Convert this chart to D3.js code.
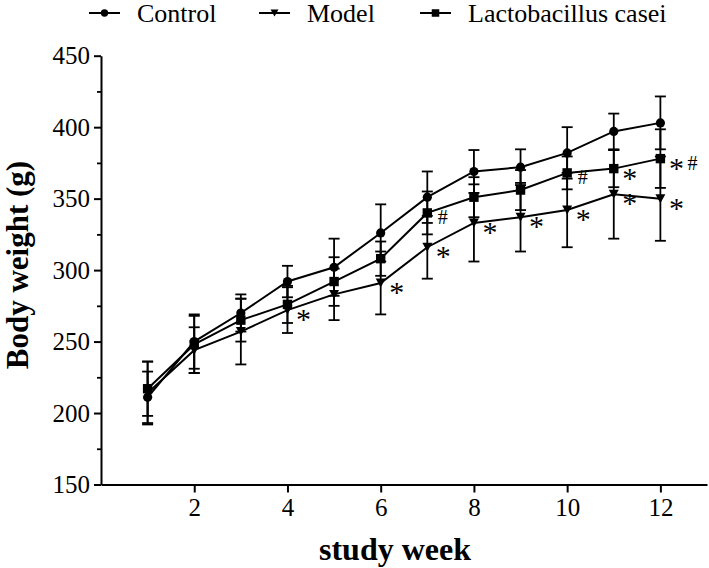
<!DOCTYPE html>
<html>
<head>
<meta charset="utf-8">
<script src="https://cdn.jsdelivr.net/npm/d3@7"></script>
<style>
  body { margin: 0; background: #fff; }
  svg text { font-family: "Liberation Serif", "Times New Roman", serif; }
</style>
</head>
<body>
<div id="chart"></div>
<script>
const W = 709, H = 568;
const FONT = "'Liberation Serif', 'Times New Roman', serif";

// data (mean and SD, body weight in g)
const weeks = [1, 2, 3, 4, 5, 6, 7, 8, 9, 10, 11, 12];
const control   = [211, 250, 270, 292, 302, 326, 351, 369, 372, 382, 397, 403];
const controlSD = [18, 19, 13, 11, 20, 20, 18, 15, 12.5, 18, 12.5, 18.5];
const model     = [214, 244, 257, 272, 283, 291, 316, 333, 337, 342, 353, 350];
const modelSD   = [22, 16, 23, 16, 18, 22, 22, 27, 24, 26, 31, 29.5];
const lacto     = [217, 248, 265, 276, 292, 308, 340, 351, 356, 368, 371, 378];
const lactoSD   = [19, 20, 15, 13, 17, 12, 15, 14, 14, 11.5, 13, 20.5];

const yMajor = [150, 200, 250, 300, 350, 400, 450];
const yMinor = [175, 225, 275, 325, 375, 425];
const xTicks = [2, 4, 6, 8, 10, 12];

// significance marks
const modelStars = [4, 6, 7, 8, 9, 10, 11, 12];
const lactoStars = [11, 12];
const lactoHash  = [7, 10, 12];

const series = [
  {name: "Control", mean: control, sd: controlSD, symbol: "circle"},
  {name: "Model", mean: model, sd: modelSD, symbol: "triangle"},
  {name: "Lactobacillus casei", mean: lacto, sd: lactoSD, symbol: "square"}
];

const svg = d3.select("#chart").append("svg")
    .attr("width", W)
    .attr("height", H)
    .attr("font-family", FONT);

const x = d3.scaleLinear().domain([0, 13]).range([101, 707]);
const y = d3.scaleLinear().domain([150, 450]).range([484.5, 55.7]);

function drawMarker(g, type, cx, cy, s) {
  if (type === "circle") {
    g.append("circle").attr("cx", cx).attr("cy", cy).attr("r", 4.6 * s).attr("fill", "#000");
  } else if (type === "square") {
    g.append("rect").attr("x", cx - 4.7 * s).attr("y", cy - 4.7 * s)
      .attr("width", 9.4 * s).attr("height", 9.4 * s).attr("fill", "#000");
  } else {
    const w = 5 * s, h = 4.5 * s;
    g.append("path")
      .attr("d", `M${cx - w},${cy - h}L${cx + w},${cy - h}L${cx},${cy + h}Z`)
      .attr("fill", "#000");
  }
}

// axes
const yMinorAxis = svg.append("g")
    .attr("transform", `translate(${x(0)},0)`)
    .call(d3.axisLeft(y).tickValues(yMinor).tickSize(4).tickFormat(""));
yMinorAxis.select(".domain").remove();

const yAxis = svg.append("g")
    .attr("transform", `translate(${x(0)},0)`)
    .call(d3.axisLeft(y).tickValues(yMajor).tickSize(7).tickSizeOuter(0).tickPadding(4));

const xAxis = svg.append("g")
    .attr("transform", `translate(0,${y(150)})`)
    .call(d3.axisBottom(x).tickValues(xTicks).tickSize(8).tickSizeOuter(0).tickPadding(6));

svg.selectAll("g").attr("font-family", FONT);
svg.selectAll(".tick text")
    .attr("font-family", FONT)
    .attr("font-size", 25)
    .attr("fill", "#000");
svg.selectAll(".domain, .tick line")
    .attr("stroke", "#000")
    .attr("stroke-width", 2);
yMinorAxis.selectAll(".tick line").attr("stroke-width", 1.8);

// axis titles
svg.append("text")
    .attr("x", (x(0) + x(13)) / 2 - 9)
    .attr("y", 560)
    .attr("text-anchor", "middle")
    .attr("font-size", 32)
    .attr("font-weight", "bold")
    .text("study week");

svg.append("text")
    .attr("transform", `translate(28,${(y(150) + y(450)) / 2 - 5}) rotate(-90)`)
    .attr("text-anchor", "middle")
    .attr("font-size", 31)
    .attr("font-weight", "bold")
    .text("Body weight (g)");

// error bars, lines and markers
const line = d3.line()
    .x((d, i) => x(weeks[i]))
    .y(d => y(d));

const plot = svg.append("g");

series.forEach(s => {
  const eb = plot.append("g").attr("stroke", "#000").attr("stroke-width", 1.8);
  s.mean.forEach((m, i) => {
    const cx = x(weeks[i]);
    const lo = y(m - s.sd[i]), hi = y(m + s.sd[i]);
    eb.append("line").attr("x1", cx).attr("x2", cx).attr("y1", lo).attr("y2", hi);
    eb.append("line").attr("x1", cx - 5.5).attr("x2", cx + 5.5).attr("y1", lo).attr("y2", lo);
    eb.append("line").attr("x1", cx - 5.5).attr("x2", cx + 5.5).attr("y1", hi).attr("y2", hi);
  });
});

series.forEach(s => {
  plot.append("path")
      .datum(s.mean)
      .attr("fill", "none")
      .attr("stroke", "#000")
      .attr("stroke-width", 2)
      .attr("d", line);
});

series.forEach(s => {
  const mk = plot.append("g");
  s.mean.forEach((m, i) => drawMarker(mk, s.symbol, x(weeks[i]), y(m), 1));
});

// significance marks
const notes = svg.append("g").attr("fill", "#000");
function star(week, values) {
  const i = weeks.indexOf(week);
  notes.append("text")
      .attr("x", x(week) + 16)
      .attr("y", y(values[i]) + 19)
      .attr("text-anchor", "middle")
      .attr("font-size", 30)
      .text("*");
}
function hash(week, values, dx) {
  const i = weeks.indexOf(week);
  notes.append("text")
      .attr("x", x(week) + dx)
      .attr("y", y(values[i]) + 11)
      .attr("text-anchor", "middle")
      .attr("font-size", 20)
      .text("#");
}
modelStars.forEach(w => star(w, model));
lactoStars.forEach(w => star(w, lacto));
lactoHash.forEach(w => hash(w, lacto, lactoStars.includes(w) ? 32 : 15.5));

// legend
const legendX = [89, 259, 420];
const legend = svg.append("g");
series.forEach((s, i) => {
  const lx = legendX[i];
  legend.append("line")
      .attr("x1", lx).attr("x2", lx + 31)
      .attr("y1", 13).attr("y2", 13)
      .attr("stroke", "#000").attr("stroke-width", 2);
  drawMarker(legend, s.symbol, lx + 15.5, 13, 0.8);
  legend.append("text")
      .attr("x", lx + 48)
      .attr("y", 22)
      .attr("font-size", 26)
      .text(s.name);
});
</script>
</body>
</html>
